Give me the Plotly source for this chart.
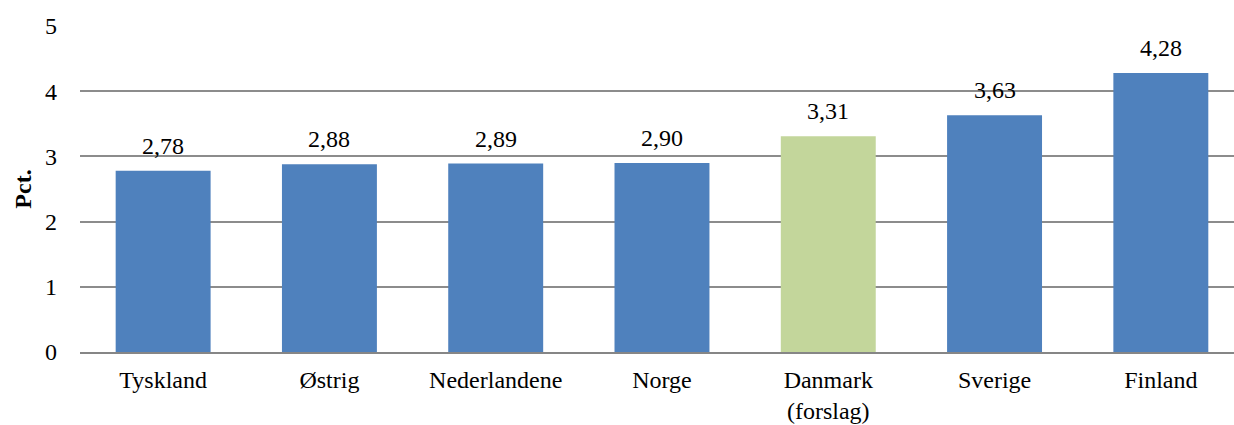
import plotly.graph_objects as go

categories = ["Tyskland", "Østrig", "Nederlandene", "Norge", "Danmark<br>(forslag)", "Sverige", "Finland"]
values = [2.78, 2.88, 2.89, 2.90, 3.31, 3.63, 4.28]
highlight = "Danmark<br>(forslag)"
y_ticks = [0, 1, 2, 3, 4, 5]

BLUE = "#4F81BD"
GREEN = "#C3D69B"
FONT = "Liberation Serif"
SIZE = 24

colors = [GREEN if c == highlight else BLUE for c in categories]

fig = go.Figure()
fig.add_trace(go.Bar(
    x=categories, y=values, marker=dict(color=colors, line=dict(width=0)),
    width=0.571, hoverinfo="skip",
))

for c, v in zip(categories, values):
    fig.add_annotation(
        x=c, y=v, text=f"{v:.2f}".replace(".", ","), showarrow=False,
        yanchor="bottom", yshift=10, font=dict(family=FONT, size=SIZE, color="#000000"),
    )

fig.update_layout(
    width=1234, height=425,
    margin=dict(l=80, r=0, t=26, b=73),
    paper_bgcolor="white", plot_bgcolor="white",
    showlegend=False,
    font=dict(family=FONT, size=SIZE, color="#000000"),
)
fig.update_xaxes(
    range=[-0.5, 6.44],
    showgrid=False, showline=True, linecolor="#868686", linewidth=2,
    ticks="", tickfont=dict(family=FONT, size=SIZE), ticklabelstandoff=5,
)
fig.update_yaxes(
    range=[0, 5], tickvals=y_ticks, ticktext=[str(t) for t in y_ticks],
    showgrid=True, gridcolor="#8C8C8C", gridwidth=1.5,
    zeroline=False, showline=False, ticks="",
    tickfont=dict(family=FONT, size=SIZE), ticklabelstandoff=22,
    title=dict(text="<b>Pct.</b>", font=dict(family=FONT, size=SIZE), standoff=6),
)

fig.write_html("out.html")
